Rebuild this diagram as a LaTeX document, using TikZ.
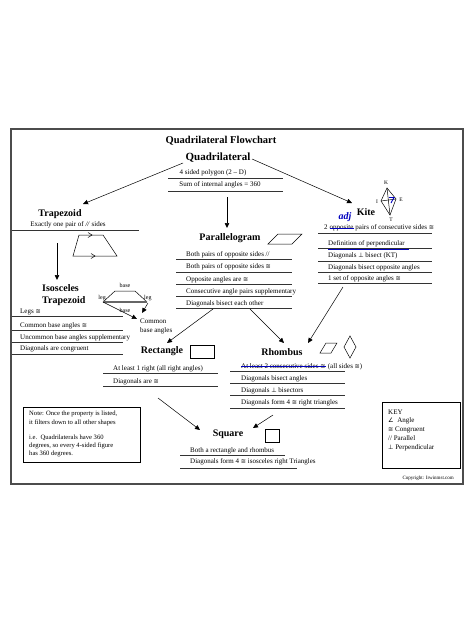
\documentclass[tikz,border=0pt]{standalone}
\usepackage{fontspec}
\setmainfont{Liberation Serif}
\newfontfamily\symf{DejaVu Sans}
\newcommand{\cg}{{\symf\fontsize{6.2}{8}\selectfont ≅}}
\newcommand{\pp}{{\symf\fontsize{6.2}{8}\selectfont ⊥}}
\newcommand{\ang}{{\symf\fontsize{6.2}{8}\selectfont ∠}}
\usetikzlibrary{arrows.meta}
\begin{document}
\begin{tikzpicture}[x=1pt,y=-1pt,
  txt/.style={font=\fontsize{7}{8}\selectfont, inner sep=0pt, anchor=mid west},
  sm/.style={font=\fontsize{6}{7}\selectfont, inner sep=0pt, anchor=mid},
  hd/.style={font=\bfseries\fontsize{10}{12}\selectfont, inner sep=0pt, anchor=mid},
  sep/.style={line width=0.7pt, black!80},
  arr/.style={-{Triangle[length=5pt,width=4.5pt]}, line width=0.5pt},
  shp/.style={line width=0.5pt},
  ann/.style={blue!75!black, line width=1.1pt},
  annt/.style={blue!75!black, font=\bfseries\itshape\fontsize{10}{12}\selectfont, inner sep=0pt}]
\useasboundingbox[fill=white] (0,0) rectangle (474,632);

% frame
\draw[line width=1.6pt, black!70] (11,129) rectangle (463,484);

% title and quadrilateral
\node[hd, font=\bfseries\fontsize{10.5}{12}\selectfont] (title) at (221,141) {Quadrilateral Flowchart};
\node[hd, font=\bfseries\fontsize{11}{13}\selectfont] (quad) at (218,158) {Quadrilateral};
\node[txt, anchor=mid] (q1) at (213,172) {4 sided polygon (2 -- D)};
\node[txt, anchor=mid] (q2) at (220,184) {Sum of internal angles = 360};
\draw[sep] (168,178) -- (283,178);
\draw[sep] (168,191) -- (283,191);

% arrow coordinates
\coordinate (qL) at (183,163);
\coordinate (trapIn) at (83,204);
\coordinate (qR) at (252,159);
\coordinate (kiteIn) at (352,203);
\coordinate (qD) at (227,197);
\coordinate (parIn) at (227,228);
\draw[arr] (qL) -- (trapIn);
\draw[arr] (qR) -- (kiteIn);
\draw[arr] (qD) -- (parIn);

% trapezoid
\node[hd] (trap) at (60,214) {Trapezoid};
\node[txt, anchor=mid] (t1) at (68,224) {Exactly one pair of \textit{//} sides};
\draw[sep] (12,230) -- (139,230);
\draw[shp] (73,256) -- (117,256) -- (103,235) -- (79,235) -- cycle;
\draw[shp] (88,232.5) -- (92,235) -- (88,237.5);
\draw[shp] (91,253.5) -- (95,256) -- (91,258.5);
\coordinate (trapOut) at (57,243);
\coordinate (isoIn) at (57,280);
\draw[arr] (trapOut) -- (isoIn);

% isosceles trapezoid
\node[hd, anchor=mid west] (iso1) at (42,289) {Isosceles};
\node[hd, anchor=mid west] (iso2) at (42,301) {Trapezoid};
\draw[shp] (103,302) -- (115,291) -- (135,291) -- (147,302);
\draw[line width=1.4pt, black!60] (103,302) -- (147,302);
\node[sm] (bt) at (125,285) {base};
\node[sm, anchor=mid east] (lgl) at (106,297) {leg};
\node[sm, anchor=mid west] (lgr) at (144,297) {leg};
\node[sm] (bb) at (125,310) {base};
\coordinate (isoA) at (103,302);
\coordinate (isoAe) at (137,319);
\coordinate (isoB) at (148,303);
\coordinate (isoBe) at (142,313);
\draw[arr] (isoA) -- (isoAe);
\draw[arr] (isoB) -- (isoBe);
\node[txt] (cm1) at (140,321) {Common};
\node[txt] (cm2) at (140,330) {base angles};
\node[txt] (i1) at (20,311) {Legs \cg};
\node[txt] (i2) at (20,325) {Common base angles \cg};
\node[txt] (i3) at (20,337) {Uncommon base angles supplementary};
\node[txt] (i4) at (20,348) {Diagonals are congruent};
\draw[sep] (12,316) -- (123,316);
\draw[sep] (12,330) -- (123,330);
\draw[sep] (12,342) -- (123,342);
\draw[sep] (12,354) -- (123,354);

% parallelogram
\node[hd] (par) at (230,238) {Parallelogram};
\draw[shp] (268,244) -- (292,244) -- (302,234) -- (278,234) -- cycle;
\node[txt] (p1) at (186,254) {Both pairs of opposite sides //};
\node[txt] (p2) at (186,266) {Both pairs of opposite sides \cg};
\node[txt] (p3) at (186,279) {Opposite angles are \cg};
\node[txt] (p4) at (186,291) {Consecutive angle pairs supplementary};
\node[txt] (p5) at (186,303) {Diagonals bisect each other};
\foreach \yy in {259,272,284,296,308} \draw[sep] (176,\yy) -- (292,\yy);

% kite
\node[hd] (kite) at (366,213) {Kite};
\coordinate (K) at (387,188);
\coordinate (E) at (396,199);
\coordinate (T) at (390,215);
\coordinate (I) at (381,201);
\draw[shp] (K) -- (E) -- (T) -- (I) -- cycle;
\draw[shp] (K) -- (T);
\draw[shp] (I) -- (E);
\draw[blue!75!black, line width=0.9pt] (389,197.5) -- (394,197.5) -- (391,203);
\node[sm, font=\fontsize{5.5}{6}\selectfont] (lK) at (386,182.5) {K};
\node[sm, font=\fontsize{5.5}{6}\selectfont] (lI) at (377,201) {I};
\node[sm, font=\fontsize{5.5}{6}\selectfont] (lE) at (401,199) {E};
\node[sm, font=\fontsize{5.5}{6}\selectfont] (lT) at (391,219) {T};
\node[txt] (k1a) at (324,227) {2};
\node[txt, anchor=mid west] (k1b) at ([xshift=1.6pt]k1a.east) {opposite};
\node[txt, anchor=mid west] (k1c) at ([xshift=1.6pt]k1b.east) {pairs of consecutive sides \cg};
\draw[ann] ([yshift=-0.5pt]k1b.west) -- ([yshift=-0.5pt]k1b.east);
\node[annt] (adj) at (345,217) {adj};
\node[txt] (k2) at (328,243) {Definition of perpendicular};
\draw[ann] ([yshift=-2pt]k2.south west) -- ([xshift=4pt,yshift=-2pt]k2.south east);
\node[txt] (k3) at (328,255) {Diagonals \pp\ bisect (KT)};
\node[txt] (k4) at (328,267) {Diagonals bisect opposite angles};
\node[txt] (k5) at (328,278) {1 set of opposite angles \cg};
\foreach \yy in {233,248,261,272,283} \draw[sep] (318,\yy) -- (432,\yy);

% arrows to rectangle / rhombus
\coordinate (parL) at (213,309);
\coordinate (rectIn) at (167,343);
\coordinate (parR) at (250,309);
\coordinate (rhomInL) at (284,343);
\coordinate (kiteOut) at (343,287);
\coordinate (rhomInR) at (308,343);
\draw[arr] (parL) -- (rectIn);
\draw[arr] (parR) -- (rhomInL);
\draw[arr] (kiteOut) -- (rhomInR);

% rectangle
\node[hd] (rect) at (162,351) {Rectangle};
\draw[shp] (190,345) rectangle (214,358);
\node[txt] (re1) at (113,368) {At least 1 right (all right angles)};
\node[txt] (re2) at (113,381) {Diagonals are \cg};
\draw[sep] (103,373) -- (218,373);
\draw[sep] (103,386) -- (218,386);

% rhombus
\node[hd] (rhom) at (282,353) {Rhombus};
\draw[shp] (320,353) -- (331,353) -- (337,343) -- (326,343) -- cycle;
\draw[shp] (350,336) -- (356,347) -- (350,358) -- (344,347) -- cycle;
\node[txt] (rh1a) at (241,366) {At least 2 consecutive sides \cg};
\node[txt, anchor=mid west] (rh1b) at ([xshift=2pt]rh1a.east) {(all sides \cg)};
\draw[ann] ([yshift=-0.3pt]rh1a.west) -- ([yshift=-0.3pt]rh1a.east);
\node[txt] (rh2) at (241,378) {Diagonals bisect angles};
\node[txt] (rh3) at (241,390) {Diagonals \pp\ bisectors};
\node[txt] (rh4) at (241,402) {Diagonals form 4 \cg\ right triangles};
\draw[sep] (230,371) -- (345,371);
\draw[sep] (230,383) -- (345,383);
\draw[sep] (230,395) -- (345,395);
\draw[sep, line width=1pt] (230,408) -- (345,408);

% arrows to square
\coordinate (rectOut) at (158,398);
\coordinate (sqInL) at (200,430);
\coordinate (rhomOut) at (273,415);
\coordinate (sqInR) at (253,428);
\draw[arr] (rectOut) -- (sqInL);
\draw[arr] (rhomOut) -- (sqInR);

% square
\node[hd] (sq) at (228,434) {Square};
\draw[shp] (265,429) rectangle (279,442);
\node[txt] (s1) at (190,450) {Both a rectangle and rhombus};
\node[txt] (s2) at (190,461) {Diagonals form 4 \cg\ isosceles right Triangles};
\draw[sep] (180,455) -- (285,455);
\draw[sep] (180,468) -- (297,468);

% note box
\draw[shp] (23,407) rectangle (140,462);
\node[txt, font=\fontsize{6.6}{8}\selectfont] (n1) at (29,413) {Note: Once the property is listed,};
\node[txt, font=\fontsize{6.6}{8}\selectfont] (n2) at (29,422) {it filters down to all other shapes};
\node[txt, font=\fontsize{6.6}{8}\selectfont] (n3) at (29,437) {i.e.\ \ Quadrilaterals have 360};
\node[txt, font=\fontsize{6.6}{8}\selectfont] (n4) at (29,445) {degrees, so every 4-sided figure};
\node[txt, font=\fontsize{6.6}{8}\selectfont] (n5) at (29,453) {has 360 degrees.};

% key box
\draw[shp] (382,402) rectangle (460,468);
\node[txt] (key) at (388,412) {KEY};
\node[txt] (ky1) at (388,420) {\ang\ \ Angle};
\node[txt] (ky2) at (388,429) {\cg\ Congruent};
\node[txt] (ky3) at (388,438) {// Parallel};
\node[txt] (ky4) at (388,447) {\pp\ Perpendicular};

% copyright
\node[txt, font=\fontsize{5}{6}\selectfont, anchor=mid east] (copy) at (454,477) {Copyright: Irwinmst.com};
\end{tikzpicture}
\end{document}
